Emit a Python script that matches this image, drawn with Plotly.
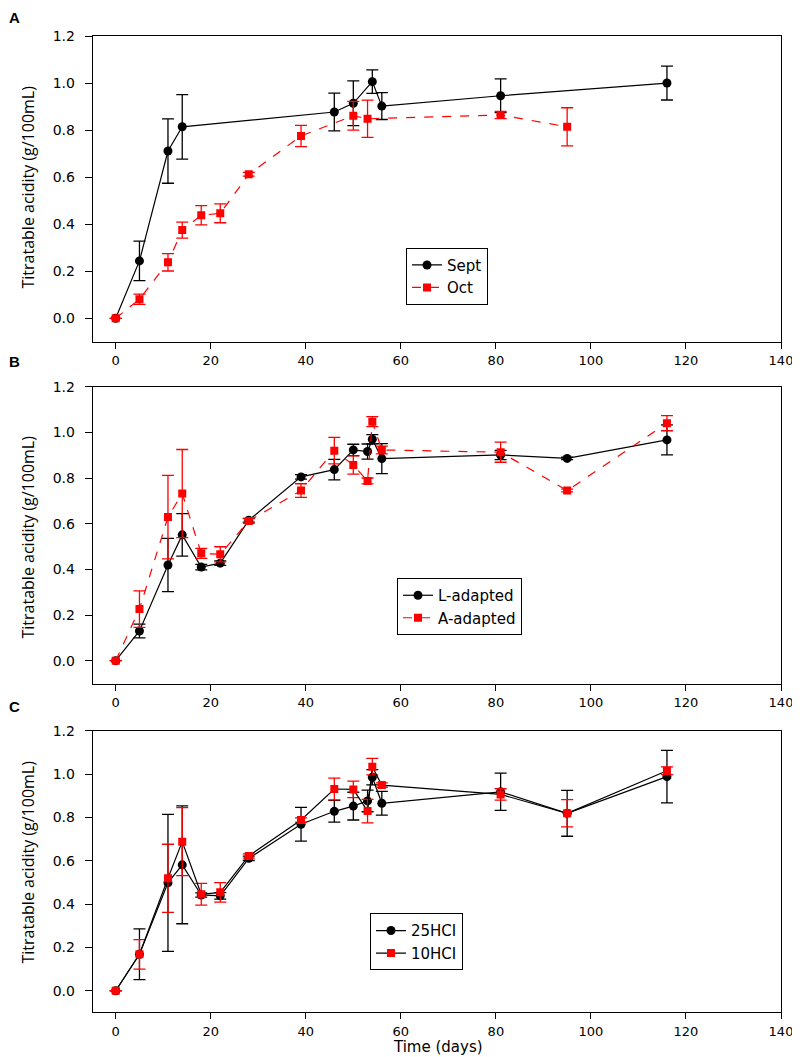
import plotly.graph_objects as go

# ---------------- data ----------------
days_sept = [0, 5, 11, 14, 46, 50, 54, 56, 81, 116]
sept_vals = [0, 0.244, 0.711, 0.814, 0.877, 0.914, 1.006, 0.902, 0.946, 1.0]
sept_err = [0, 0.084, 0.137, 0.137, 0.08, 0.095, 0.05, 0.057, 0.072, 0.072]

days_oct = [0, 5, 11, 14, 18, 22, 28, 39, 50, 53, 81, 95]
oct_vals = [0, 0.081, 0.238, 0.375, 0.438, 0.446, 0.612, 0.775, 0.861, 0.848, 0.864, 0.814]
oct_err = [0, 0.022, 0.037, 0.034, 0.041, 0.04, 0.008, 0.045, 0.061, 0.079, 0.015, 0.081]

days_bc = [0, 5, 11, 14, 18, 22, 28, 39, 46, 50, 53, 54, 56, 81, 95, 116]
l_adapted_vals = [0, 0.13, 0.419, 0.551, 0.41, 0.427, 0.615, 0.805, 0.837, 0.923, 0.916, 0.97, 0.885, 0.901, 0.886, 0.967]
l_adapted_err = [0, 0.03, 0.117, 0.093, 0.012, 0.01, 0.008, 0.01, 0.045, 0.025, 0.033, 0.02, 0.066, 0.02, 0.005, 0.066]
a_adapted_vals = [0, 0.226, 0.629, 0.732, 0.47, 0.466, 0.612, 0.745, 0.92, 0.857, 0.787, 1.047, 0.923, 0.913, 0.745, 1.04]
a_adapted_err = [0, 0.08, 0.183, 0.193, 0.022, 0.033, 0.01, 0.03, 0.058, 0.04, 0.013, 0.022, 0.017, 0.044, 0.006, 0.033]

hcl25_vals = [0, 0.168, 0.498, 0.581, 0.442, 0.438, 0.611, 0.768, 0.828, 0.852, 0.876, 0.985, 0.865, 0.918, 0.819, 0.988]
hcl25_err = [0, 0.117, 0.316, 0.272, 0.01, 0.015, 0.01, 0.078, 0.05, 0.064, 0.05, 0.035, 0.055, 0.086, 0.106, 0.121]
hcl10_vals = [0, 0.168, 0.519, 0.688, 0.445, 0.454, 0.622, 0.788, 0.931, 0.929, 0.829, 1.034, 0.949, 0.906, 0.819, 1.015]
hcl10_err = [0, 0.068, 0.157, 0.157, 0.05, 0.045, 0.01, 0.01, 0.05, 0.038, 0.054, 0.038, 0.01, 0.026, 0.063, 0.018]

x_ticks = [0, 20, 40, 60, 80, 100, 120, 140]
y_ticks = [0.0, 0.2, 0.4, 0.6, 0.8, 1.0, 1.2]
y_title = "Titratable acidity (g/100mL)"
x_title = "Time (days)"

BLACK = "#000000"
RED = "#ff0000"
TICKFONT = dict(family="DejaVu Sans", size=14, color="black")
XTICKFONT = dict(family="DejaVu Sans", size=13, color="black")
LEGFONT = dict(family="DejaVu Sans", size=15, color="black")

# the page body has an 8px margin, so the figure is placed at (8, 8)
OFF = 8
W, H = 800 - OFF, 1057 - OFF


def px_x(px):
    return (px - OFF) / W


def py(px):
    return 1 - (px - OFF) / H


fig = go.Figure()


def series(x, y, err, name, color, line_color, symbol, dash, xa, ya, legend):
    fig.add_trace(go.Scatter(
        x=x, y=y, name=name, mode="lines+markers",
        line=dict(color=line_color, width=1.2, dash=dash),
        marker=dict(color=color, symbol=symbol, size=9 if symbol == "circle" else 8),
        error_y=dict(type="data", array=err, visible=True, color=color,
                     thickness=1.3, width=6),
        xaxis=xa, yaxis=ya, legend=legend,
    ))


# Panel A
series(days_sept, sept_vals, sept_err, "Sept", BLACK, BLACK, "circle", "solid", "x", "y", "legend")
series(days_oct, oct_vals, oct_err, "Oct", RED, RED, "square", "dash", "x", "y", "legend")
# Panel B
series(days_bc, l_adapted_vals, l_adapted_err, "L-adapted", BLACK, BLACK, "circle", "solid", "x2", "y2", "legend2")
series(days_bc, a_adapted_vals, a_adapted_err, "A-adapted", RED, RED, "square", "dash", "x2", "y2", "legend2")
# Panel C
series(days_bc, hcl25_vals, hcl25_err, "25HCI", BLACK, BLACK, "circle", "solid", "x3", "y3", "legend3")
series(days_bc, hcl10_vals, hcl10_err, "10HCI", RED, BLACK, "square", "solid", "x3", "y3", "legend3")

x_dom = [px_x(92.7), px_x(781)]
panels = [
    (36.0, 341.8),
    (386.7, 683.5),
    (730.7, 1012.4),
]

layout = dict(
    width=W, height=H,
    margin=dict(l=0, r=0, t=0, b=0, autoexpand=False),
    paper_bgcolor="white", plot_bgcolor="white",
    showlegend=True,
)

for i, (top, bot) in enumerate(panels):
    sfx = "" if i == 0 else str(i + 1)
    layout["xaxis" + sfx] = dict(
        domain=x_dom, range=[-4.84, 140], anchor="y" + sfx, automargin=False,
        tickvals=x_ticks, ticks="outside", ticklen=6, tickwidth=1, tickcolor="black",
        showline=True, linecolor="black", linewidth=1, mirror=True,
        showgrid=False, zeroline=False, tickfont=XTICKFONT, ticklabelstandoff=1,
        ticklabeloverflow="allow",
    )
    layout["yaxis" + sfx] = dict(
        domain=[py(bot), py(top)], range=[-0.1, 1.2], anchor="x" + sfx, automargin=False,
        tickvals=y_ticks, tickformat=".1f", ticks="outside", ticklen=7, tickwidth=1,
        tickcolor="black", showline=True, linecolor="black", linewidth=1, mirror=True,
        showgrid=False, zeroline=False, tickfont=TICKFONT, ticklabelstandoff=7,
    )

leg_common = dict(
    bgcolor="white", bordercolor="black", borderwidth=1, font=LEGFONT,
    xanchor="left", yanchor="top", tracegroupgap=0, itemwidth=30,
)
layout["legend"] = dict(x=px_x(406), y=py(247.7), **leg_common)
layout["legend2"] = dict(x=px_x(397), y=py(578), **leg_common)
layout["legend3"] = dict(x=px_x(370), y=py(913.3), **leg_common)

annotations = []
for letter, yy in [("A", 8), ("B", 352), ("C", 697)]:
    annotations.append(dict(
        text="<b>%s</b>" % letter, x=px_x(8), y=py(yy), xref="paper", yref="paper",
        xanchor="left", yanchor="top", showarrow=False, borderpad=0,
        font=dict(family="Liberation Sans", size=15, color="black"),
    ))
for yc in [187.5, 537.5, 862.5]:
    annotations.append(dict(
        text=y_title, x=px_x(27), y=py(yc), xref="paper", yref="paper",
        xanchor="center", yanchor="middle", textangle=-90, showarrow=False,
        font=dict(family="Open Sans", size=16, color="black"),
    ))
annotations.append(dict(
    text=x_title, x=px_x(437.5), y=py(1057), xref="paper", yref="paper",
    xanchor="center", yanchor="bottom", showarrow=False, borderpad=0,
    font=dict(family="DejaVu Sans", size=15, color="black"),
))
layout["annotations"] = annotations

fig.update_layout(**layout)
fig.write_html("out.html")
